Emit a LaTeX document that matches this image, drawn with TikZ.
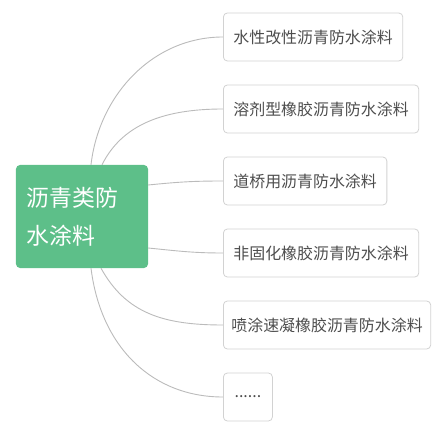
\documentclass[tikz,border=0pt]{standalone}
\usepackage{fontspec}
\newfontfamily\cjk{Noto Sans CJK SC}
\definecolor{hubgreen}{HTML}{5DBF89}
\definecolor{leafline}{HTML}{D2D2D2}
\definecolor{leaftext}{HTML}{4D4D4D}
\definecolor{linkgray}{HTML}{BBBBBB}
\tikzset{
    hub/.style={fill=hubgreen, rounded corners=4bp, text=white, minimum width=132bp,
        minimum height=103bp, inner xsep=11bp, text width=110bp, align=left,
        font=\cjk\fontsize{23}{38}\selectfont},
    leaf/.style={draw=leafline, line width=0.8bp, rounded corners=4bp, text=leaftext,
        minimum height=48bp, inner xsep=10bp, anchor=west, font=\cjk\fontsize{16}{18}\selectfont},
    link/.style={draw=linkgray, line width=0.9bp}
}
\begin{document}
\begin{tikzpicture}[x=1bp, y=-1bp]
    \useasboundingbox (0,0) rectangle (432,436);
    \node[hub] (hub) at (82,216.5) {沥青类防\\水涂料};
    \foreach \i/\t in {1/水性改性沥青防水涂料, 2/溶剂型橡胶沥青防水涂料, 3/道桥用沥青防水涂料,
            4/非固化橡胶沥青防水涂料} {
            \node[leaf] (leaf\i) at (223,{37+72*(\i-1)}) {\t};
        }
    \node[leaf, inner xsep=8bp] (leaf5) at (223,325) {喷涂速凝橡胶沥青防水涂料};
    \node[leaf, minimum width=49bp] (leaf6) at (223,397) {......};
    \draw[link] ([xshift=9bp]hub.north) .. controls +(8,-70) and +(-70,0) .. (leaf1.west);
    \draw[link] ([xshift=20bp]hub.north) .. controls +(20,-40) and +(-60,0) .. (leaf2.west);
    \draw[link] ([yshift=31.5bp]hub.east) .. controls +(30,-3) and +(-30,0) .. (leaf3.west);
    \draw[link] ([yshift=-31.5bp]hub.east) .. controls +(30,3) and +(-30,0) .. (leaf4.west);
    \draw[link] ([xshift=19bp]hub.south) .. controls +(25,45) and +(-60,0) .. (leaf5.west);
    \draw[link] ([xshift=9bp]hub.south) .. controls +(10,80) and +(-70,0) .. (leaf6.west);
\end{tikzpicture}
\end{document}
